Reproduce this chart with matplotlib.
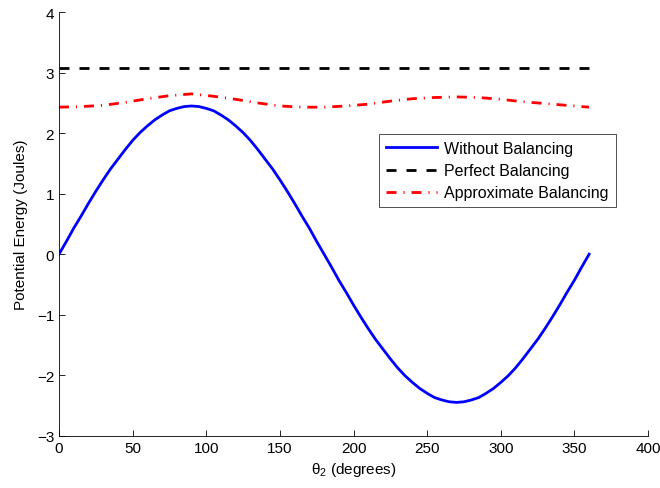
import numpy as np
import matplotlib
matplotlib.use('Agg')
import matplotlib.pyplot as plt

plt.rcParams['font.family'] = ['Liberation Sans', 'DejaVu Sans']
plt.rcParams['mathtext.fontset'] = 'custom'
plt.rcParams['mathtext.rm'] = 'Liberation Sans'
plt.rcParams['mathtext.it'] = 'Liberation Sans:italic'

# crank angle, degrees
theta_fine = np.arange(0, 361, 5)
quarter = [0.00, 0.21, 0.43, 0.63, 0.84, 1.04, 1.23, 1.41, 1.57, 1.73,
           1.88, 2.01, 2.12, 2.22, 2.30, 2.37, 2.41, 2.44, 2.45]
half = quarter + quarter[-2::-1]
without_bal = half + [-v for v in half[1:]]

theta_perf = [0, 360]
perfect_bal = [3.07, 3.07]

theta_approx = np.arange(0, 361, 15)
approx_bal = [2.43, 2.44, 2.46, 2.51, 2.57, 2.62, 2.65, 2.61, 2.56, 2.50,
              2.45, 2.43, 2.43, 2.45, 2.48, 2.53, 2.57, 2.59, 2.60, 2.59,
              2.56, 2.52, 2.49, 2.46, 2.43]

fig = plt.figure(figsize=(6.6, 4.89), dpi=100)
ax = fig.add_axes([0.0894, 0.107, 0.8925, 0.866])

ax.plot(theta_fine, without_bal, color='blue', lw=2, label='Without Balancing')
ax.plot(theta_perf, perfect_bal, color='black', lw=2, dashes=(3.6, 3.6),
        label='Perfect Balancing')
ax.plot(theta_approx, approx_bal, color='red', lw=2, dashes=(3.6, 2.5, 0.4, 2.5),
        label='Approximate Balancing')

ax.set_xlim(0, 400)
ax.set_ylim(-3, 4)
ax.set_xticks(np.arange(0, 401, 50))
ax.set_yticks(np.arange(-3, 5, 1))
ax.set_yticklabels([str(v).replace('-', '\u2212') for v in range(-3, 5)])
ax.spines['top'].set_visible(False)
ax.spines['right'].set_visible(False)
ax.spines['left'].set_linewidth(0.6)
ax.spines['bottom'].set_linewidth(0.6)
ax.tick_params(direction='in', length=4, width=0.6, labelsize=11)

ax.set_xlabel(r'$\mathregular{\theta_2}$ (degrees)', fontsize=11)
ax.set_ylabel('Potential Energy (Joules)', fontsize=11, labelpad=6)

leg = ax.legend(loc='upper left', bbox_to_anchor=(0.543, 0.713), fontsize=11.5,
                fancybox=False, edgecolor='black', handlelength=3.2,
                borderpad=0.45, labelspacing=0.45, handletextpad=0.45,
                borderaxespad=0)
leg.get_frame().set_linewidth(0.6)

fig.savefig('out.png', dpi=100)
